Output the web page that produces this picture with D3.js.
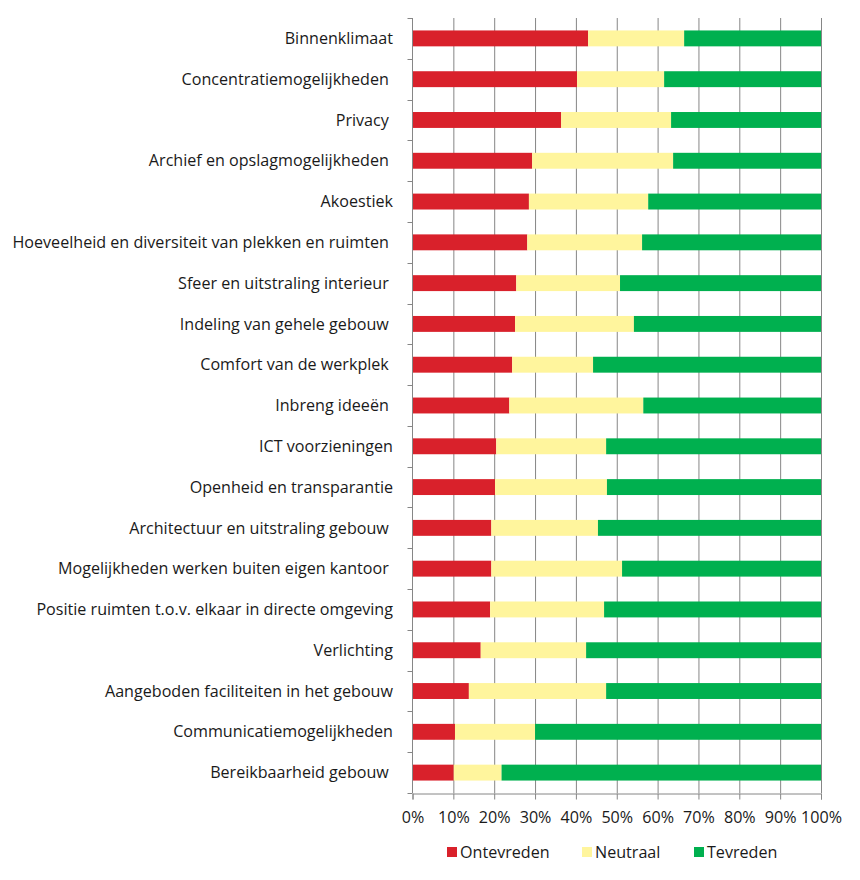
<!DOCTYPE html>
<html>
<head>
<meta charset="utf-8">
<script src="https://cdn.jsdelivr.net/npm/d3@7"></script>
<style>
  html, body { margin: 0; padding: 0; background: #fff; }
  svg { display: block; font-family: "Open Sans", Lato, sans-serif; }
  text { white-space: pre; }
</style>
</head>
<body>
<svg id="chart" width="860" height="880"></svg>
<script>
const categories = [
  "Binnenklimaat",
  "Concentratiemogelijkheden ",
  "Privacy ",
  "Archief en opslagmogelijkheden ",
  "Akoestiek",
  "Hoeveelheid en diversiteit van plekken en ruimten ",
  "Sfeer en uitstraling interieur ",
  "Indeling van gehele gebouw ",
  "Comfort van de werkplek ",
  "Inbreng ideeën ",
  "ICT voorzieningen",
  "Openheid en transparantie",
  "Architectuur en uitstraling gebouw ",
  "Mogelijkheden werken buiten eigen kantoor ",
  "Positie ruimten t.o.v. elkaar in directe omgeving",
  "Verlichting",
  "Aangeboden faciliteiten in het gebouw",
  "Communicatiemogelijkheden",
  "Bereikbaarheid gebouw "
];
const ontevreden = [43.0, 40.3, 36.4, 29.3, 28.5, 28.1, 25.4, 25.1, 24.4, 23.7, 20.5, 20.2, 19.3, 19.3, 19.0, 16.7, 13.8, 10.4, 10.1];
const neutraal   = [23.5, 21.3, 26.9, 34.5, 29.2, 28.1, 25.4, 29.1, 19.8, 32.8, 26.9, 27.4, 26.1, 32.0, 27.9, 25.8, 33.6, 19.6, 11.7];
const tevreden   = [33.5, 38.4, 36.7, 36.2, 42.3, 43.8, 49.2, 45.8, 55.8, 43.5, 52.6, 52.4, 54.6, 48.7, 53.1, 57.5, 52.6, 70.0, 78.2];
const seriesNames = ["Ontevreden", "Neutraal", "Tevreden"];
const seriesColors = ["#D9212B", "#FFF59D", "#00B04F"];
const xTicks = [0, 10, 20, 30, 40, 50, 60, 70, 80, 90, 100];

const svg = d3.select("#chart");
const mLeft = 412.5, mRight = 821, mTop = 18, mBottom = 793;
const textColor = "#1a1a1a";

const x = d3.scaleLinear().domain([0, 100]).range([mLeft, mRight]);
const y = d3.scaleBand().domain(categories).range([mTop, mBottom]).paddingInner(0.61).paddingOuter(0.305);

const rows = categories.map((c, i) => ({ cat: c, Ontevreden: ontevreden[i], Neutraal: neutraal[i], Tevreden: tevreden[i] }));
const stacked = d3.stack().keys(seriesNames)(rows);

// gridlines
svg.append("g").selectAll("line").data(xTicks.slice(1)).join("line")
  .attr("x1", d => x(d) + 0.5).attr("x2", d => x(d) + 0.5)
  .attr("y1", mTop).attr("y2", mBottom)
  .attr("stroke", "#868686").attr("stroke-width", 1);

// bars
svg.append("g").selectAll("g").data(stacked).join("g")
  .attr("fill", (d, i) => seriesColors[i])
  .selectAll("rect").data(d => d).join("rect")
  .attr("x", d => x(d[0]))
  .attr("width", d => x(d[1]) - x(d[0]))
  .attr("y", d => y(d.data.cat))
  .attr("height", y.bandwidth());

// category labels, sized so the longest one spans like the reference
const labels = svg.append("g").selectAll("text").data(categories).join("text")
  .attr("x", 393)
  .attr("y", d => y(d) + y.bandwidth() / 2)
  .attr("dy", "0.35em")
  .attr("text-anchor", "end")
  .attr("font-size", 15)
  .attr("fill", textColor)
  .text(d => d);
const longest = labels.filter((d, i) => i === 5).node().getComputedTextLength();
const fs = 15 * 381 / longest;
labels.attr("font-size", fs);

// x axis
const xAxis = svg.append("g").attr("transform", `translate(0,${mBottom + 0.5})`)
  .call(d3.axisBottom(x).tickValues(xTicks).tickFormat(d => d + "%").tickSize(6).tickPadding(12));
xAxis.select(".domain").attr("stroke", "#868686");
xAxis.selectAll(".tick line").attr("stroke", "#868686");
xAxis.selectAll("text").attr("font-size", fs).attr("fill", textColor).attr("font-family", "'Open Sans', Lato, sans-serif");

// y axis line and ticks at band boundaries
const step = y.step();
const bounds = d3.range(categories.length + 1).map(i => mTop + i * step);
svg.append("line").attr("x1", mLeft).attr("x2", mLeft).attr("y1", mTop).attr("y2", mBottom)
  .attr("stroke", "#868686");
svg.append("g").selectAll("line").data(bounds).join("line")
  .attr("x1", mLeft - 5).attr("x2", mLeft).attr("y1", d => Math.round(d) + 0.5).attr("y2", d => Math.round(d) + 0.5)
  .attr("stroke", "#868686");

// legend
const legendX = [447, 582, 694];
const lg = svg.append("g").selectAll("g").data(seriesNames).join("g")
  .attr("transform", (d, i) => `translate(${legendX[i]},852)`);
lg.append("rect").attr("x", 0).attr("y", -5).attr("width", 10).attr("height", 10)
  .attr("fill", (d, i) => seriesColors[i]);
lg.append("text").attr("x", 13).attr("dy", "0.35em").attr("font-size", fs).attr("fill", textColor).text(d => d);
</script>
</body>
</html>
